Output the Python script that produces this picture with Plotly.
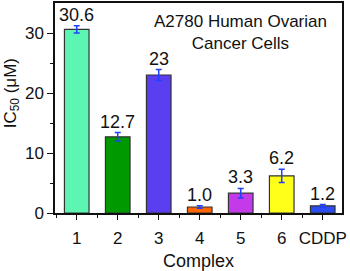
import plotly.graph_objects as go

categories = ["1", "2", "3", "4", "5", "6", "CDDP"]
ic50 = [30.6, 12.7, 23.0, 1.0, 3.3, 6.2, 1.2]
errors = [0.6, 0.7, 0.9, 0.2, 0.8, 1.1, 0.2]
labels = ["30.6", "12.7", "23", "1.0", "3.3", "6.2", "1.2"]
colors = ["#5cf5b2", "#009900", "#5a3ff0", "#ff6600", "#c43ae8", "#ffff1a", "#2a4cf0"]
x = list(range(len(categories)))

font = "Liberation Sans, Arial, sans-serif"
ink = "#111111"

fig = go.Figure()
fig.add_trace(go.Bar(
    x=x, y=ic50, width=0.6,
    marker=dict(color=colors, line=dict(color="#333333", width=1.2)),
    error_y=dict(type="data", array=errors, visible=True, color="#2040ff", thickness=1.5, width=3),
    showlegend=False,
))

for xi, v, e, lab in zip(x, ic50, errors, labels):
    fig.add_annotation(
        x=xi, y=v + e, text=lab, showarrow=False, xanchor="center", yanchor="bottom",
        yshift=-1, font=dict(family=font, size=18, color=ink),
    )

fig.add_annotation(
    x=0.648, y=0.965, xref="paper", yref="paper", xanchor="center", yanchor="top",
    text="A2780 Human Ovarian<br>Cancer Cells", showarrow=False,
    font=dict(family=font, size=17, color=ink),
)
# axis titles
fig.add_annotation(
    x=-0.15, y=0.57, xref="paper", yref="paper", xanchor="center", yanchor="middle",
    text="IC<sub>50</sub> (μM)", textangle=-90, showarrow=False,
    font=dict(family=font, size=17, color=ink),
)
fig.add_annotation(
    x=0.5, y=-0.228, xref="paper", yref="paper", xanchor="center", yanchor="middle",
    text="Complex", showarrow=False,
    font=dict(family=font, size=18, color=ink),
)

fig.update_layout(
    width=350, height=271,
    margin=dict(l=55, r=8, t=3, b=58),
    paper_bgcolor="white", plot_bgcolor="white",
    xaxis=dict(
        range=[-0.53, 6.47], tickmode="array", tickvals=x, ticktext=categories,
        ticks="outside", ticklen=5, tickwidth=1.2, tickcolor=ink,
        showline=True, linecolor=ink, linewidth=1.5, mirror=True,
        showgrid=False, zeroline=False, automargin=False, ticklabelstandoff=4,
        tickfont=dict(family=font, size=17, color=ink),
        minor=dict(tick0=0.5, dtick=1, ticks="outside", ticklen=3, tickcolor=ink, showgrid=False),
    ),
    yaxis=dict(
        range=[0, 35], tickvals=[0, 10, 20, 30],
        ticks="outside", ticklen=6, tickwidth=1.2, tickcolor=ink,
        showline=True, linecolor=ink, linewidth=1.5, mirror=True,
        showgrid=False, zeroline=False, automargin=False,
        tickfont=dict(family=font, size=17, color=ink),
        minor=dict(tickvals=[5, 15, 25], ticks="outside", ticklen=3, tickcolor=ink, showgrid=False),
    ),
)

fig.write_html("out.html", config={"displayModeBar": False},
               post_script="document.body.style.margin='0';")
